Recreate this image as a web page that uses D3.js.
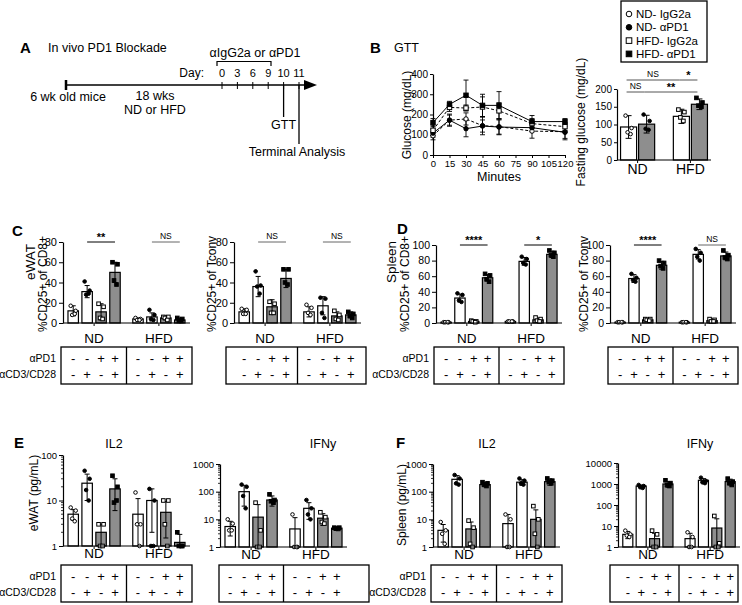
<!DOCTYPE html>
<html><head><meta charset="utf-8">
<script src="https://cdn.jsdelivr.net/npm/d3@7"></script>
<style>body{margin:0;background:#fff} svg{display:block} text{font-family:"Liberation Sans",Arial,Helvetica,sans-serif}</style>
</head><body><script>
// ---------------- DATA ----------------
const diets = ["ND", "HFD"];
const treatments = ["IgG2a", "IgG2a + αCD3/CD28", "αPD1", "αPD1 + αCD3/CD28"];
const pd1Row = ["-", "-", "+", "+"];
const cd3Row = ["-", "+", "-", "+"];
const timelineDays = [0, 3, 6, 9, 10, 11];

const gttGroups = ["ND- IgG2a", "ND- αPD1", "HFD- IgG2a", "HFD- αPD1"];
const gttMinutes = [0, 15, 30, 45, 60, 90, 120];
const gttNDIgG = [95, 172, 178, 145, 140, 118, 115];
const gttNDPD1 = [108, 172, 130, 143, 138, 135, 112];
const gttHFDIgG = [122, 235, 232, 237, 218, 155, 140];
const gttHFDPD1 = [160, 250, 295, 245, 245, 165, 165];
const gttNDIgGSd = [20, 25, 30, 45, 40, 35, 40];
const gttNDPD1Sd = [20, 30, 40, 30, 35, 20, 30];
const gttHFDIgGSd = [25, 20, 15, 50, 40, 25, 20];
const gttHFDPD1Sd = [20, 15, 75, 55, 68, 30, 15];

const fastMean = [93, 101, 123, 157];
const fastSd = [32, 25, 20, 15];
const fastPts = [[125, 90, 78, 73], [128, 110, 88, 85], [142, 135, 120, 110], [175, 162, 153, 150]];

// C: eWAT %CD25+ of CD8+
const cCD8Mean = [12, 31, 11, 50, 4, 6, 5, 3];
const cCD8Sd = [5, 6, 8, 10, 1, 4, 2, 2];
const cCD8Pts = [[17, 12, 8, 9], [41, 32, 28, 29], [19, 16, 5, 4], [60, 58, 42, 38], [5, 4, 3, 3], [13, 8, 4, 3], [6, 6, 5, 3], [5, 4, 2, 2]];
// C: eWAT %CD25+ of Tconv
const cTconvMean = [11, 36, 16, 44, 11, 17, 7, 8];
const cTconvSd = [3, 10, 7, 9, 5, 9, 4, 3];
const cTconvPts = [[14, 13, 9, 9], [51, 37, 36, 29], [21, 19, 10, 10], [53, 53, 40, 38], [18, 15, 10, 8], [25, 24, 10, 5], [12, 8, 4, 3], [11, 9, 7, 5]];
// D: spleen %CD25+ of CD8+
const dCD8Mean = [1, 32, 2, 58, 2, 79, 4, 88];
const dCD8Sd = [0.5, 5, 1, 4, 0.5, 5, 2, 4];
const dCD8Pts = [[1, 1, 1, 1], [38, 36, 29, 27], [3, 2, 2, 1], [63, 61, 56, 53], [2, 2, 2, 2], [85, 82, 77, 75], [7, 5, 3, 2], [93, 90, 87, 85]];
// D: spleen %CD25+ of Tconv
const dTconvMean = [1, 57, 4, 74, 1, 88, 3, 86];
const dTconvSd = [0.5, 5, 1, 5, 0.5, 6, 2, 5];
const dTconvPts = [[1, 1, 1, 1], [63, 58, 55, 53], [5, 5, 4, 3], [80, 77, 73, 70], [1, 1, 1, 1], [95, 90, 85, 80], [5, 4, 2, 2], [93, 87, 84, 82]];
// E: eWAT IL2 / IFNy (pg/mL)
const eIL2Mean = [5, 24, 2, 18, 5, 10, 5.5, 1.2];
const eIL2Sd = [1.3, 14, 1, 12, 6, 8, 4, 0.6];
const eIL2Pts = [[7, 6, 4, 3.5], [45, 30, 17, 10], [3, 3, 1, 1], [35, 20, 9, 10], [15, 3, 3, 1], [18, 10, 1, 1], [10, 10, 3, 1], [2, 1, 1, 1]];
const eIFNMean = [5.5, 100, 12, 50, 4.5, 25, 11, 4.8];
const eIFNSd = [3, 70, 22, 20, 7, 15, 5, 0.5];
const eIFNPts = [[10, 7, 4, 4], [180, 150, 70, 25], [40, 4, 1, 1], [80, 50, 45, 40], [15, 1, 1, 1], [50, 25, 15, 10], [18, 12, 8, 7], [5, 5, 4.6, 4.5]];
// F: spleen IL2 / IFNy (pg/mL)
const fIL2Mean = [4, 280, 4.5, 180, 7, 220, 10, 230];
const fIL2Sd = [2.5, 100, 3.5, 30, 8, 50, 12, 60];
const fIL2Pts = [[8, 4, 3, 1.3], [400, 300, 200, 180], [9, 5, 1.3, 1], [220, 200, 180, 160], [15, 10, 1, 1], [300, 250, 200, 180], [30, 10, 3, 1], [300, 250, 220, 200]];
const fIFNMean = [4, 800, 2.5, 1000, 2.5, 1500, 8, 1300];
const fIFNSd = [1.5, 100, 2, 300, 2, 300, 14, 400];
const fIFNPts = [[6, 4, 3.5, 3], [900, 800, 700, 650], [6, 4, 1, 1], [1500, 1100, 900, 800], [5, 3, 1, 1], [2000, 1400, 1200, 1100], [30, 1.5, 1, 1], [1800, 1300, 1100, 900]];

const ticks0to80 = [0, 20, 40, 60, 80];
const ticks0to100 = [0, 20, 40, 60, 80, 100];
const ticksLog100 = [1, 10, 100];
const ticksLog1000 = [1, 10, 100, 1000];
const ticksLog10000 = [1, 10, 100, 1000, 10000];

// ---------------- DRAWING ----------------
const FONT = '"Liberation Sans", Arial, Helvetica, sans-serif';
const GRAY = "#8e8e8e";
const svg = d3.select("body").append("svg").attr("width", 742).attr("height", 605);
svg.append("rect").attr("width", 742).attr("height", 605).attr("fill", "#fff");

function txt(parent, x, y, s, o = {}) {
  const t = parent.append("text").attr("x", x).attr("y", y).text(s)
    .attr("font-size", o.size || 12).attr("text-anchor", o.anchor || "start")
    .attr("font-weight", o.weight || "normal").attr("fill", o.fill || "#000");
  if (o.rotate) t.attr("transform", `rotate(-90,${x},${y})`);
  if (o.mid) t.attr("dominant-baseline", "central");
  return t;
}
const shapes = ["ocircle", "circle", "osquare", "square"];
function marker(g, shape, x, y, r) {
  if (shape === "circle" || shape === "ocircle")
    g.append("circle").attr("cx", x).attr("cy", y).attr("r", r)
      .attr("fill", shape === "circle" ? "#000" : "#fff").attr("stroke", "#000").attr("stroke-width", 1);
  else
    g.append("rect").attr("x", x - r).attr("y", y - r).attr("width", 2 * r).attr("height", 2 * r)
      .attr("fill", shape === "square" ? "#000" : "#fff").attr("stroke", "#000").attr("stroke-width", 1);
}
function styleAxis(s, size = 10) {
  s.selectAll("text").attr("font-size", size).attr("font-family", FONT).attr("fill", "#000");
  s.select(".domain").attr("stroke-width", 1.2);
  s.selectAll(".tick line").attr("stroke-width", 1);
}

// ---------- Panel A ----------
const gA = svg.append("g");
txt(gA, 20, 53, "A", { size: 15, weight: "bold" });
txt(gA, 48, 52, "In vivo PD1 Blockade", { size: 12.5 });
const dayX = d3.scalePoint().domain(timelineDays).range([222, 299]);
const tlY = 85;
gA.append("line").attr("x1", 66).attr("x2", 306).attr("y1", tlY).attr("y2", tlY).attr("stroke", "#000").attr("stroke-width", 1.5);
gA.append("path").attr("d", `M304,${tlY - 5} L317,${tlY} L304,${tlY + 5} Z`).attr("fill", "#000");
gA.append("line").attr("x1", 66).attr("x2", 66).attr("y1", tlY - 5).attr("y2", tlY + 5).attr("stroke", "#000").attr("stroke-width", 2.5);
timelineDays.forEach(d => {
  gA.append("line").attr("x1", dayX(d)).attr("x2", dayX(d)).attr("y1", tlY - 3).attr("y2", tlY + 4).attr("stroke", "#000");
  txt(gA, dayX(d), 77, d, { size: 11, anchor: "middle" });
});
txt(gA, 204, 77, "Day:", { size: 12, anchor: "end" });
gA.append("path").attr("d", `M217,66 L217,61.5 L271,61.5 L271,66`).attr("fill", "none").attr("stroke", "#000").attr("stroke-width", 1.2);
txt(gA, 255, 57, "αIgG2a or αPD1", { size: 12.5, anchor: "middle" });
txt(gA, 68, 101, "6 wk old mice", { size: 12.5, anchor: "middle" });
txt(gA, 155, 100, "18 wks", { size: 12.5, anchor: "middle" });
txt(gA, 155, 114, "ND or HFD", { size: 12.5, anchor: "middle" });
gA.append("line").attr("x1", dayX(10)).attr("x2", dayX(10)).attr("y1", tlY).attr("y2", 117).attr("stroke", "#000").attr("stroke-width", 1.3);
txt(gA, dayX(10), 129, "GTT", { size: 12.5, anchor: "middle" });
gA.append("line").attr("x1", dayX(11)).attr("x2", dayX(11)).attr("y1", tlY).attr("y2", 144).attr("stroke", "#000").attr("stroke-width", 1.3);
txt(gA, 297, 156, "Terminal Analysis", { size: 12.5, anchor: "middle" });

// ---------- Panel B: GTT ----------
const gB = svg.append("g");
txt(gB, 370, 53, "B", { size: 15, weight: "bold" });
txt(gB, 394, 52, "GTT", { size: 12.5 });
const gx = d3.scaleLinear().domain([0, 120]).range([433, 565]);
const gy = d3.scaleLinear().domain([0, 400]).range([155, 74]);
gB.append("g").attr("transform", "translate(0,155)")
  .call(d3.axisBottom(gx).tickValues(gttMinutes.concat([75, 105])).tickSize(3).tickSizeOuter(0).tickPadding(2))
  .call(s => styleAxis(s, 9.5));
gB.append("g").attr("transform", "translate(433,0)")
  .call(d3.axisLeft(gy).tickValues([0, 100, 200, 300, 400]).tickSize(3).tickSizeOuter(0).tickPadding(2))
  .call(s => styleAxis(s, 10));
txt(gB, 499, 181, "Minutes", { size: 12.5, anchor: "middle" });
txt(gB, 411, 115, "Glucose (mg/dL)", { size: 12, anchor: "middle", rotate: true });
const gttSets = [
  { mean: gttNDIgG, sd: gttNDIgGSd, shape: "ocircle", dash: "3,2" },
  { mean: gttNDPD1, sd: gttNDPD1Sd, shape: "circle", dash: null },
  { mean: gttHFDIgG, sd: gttHFDIgGSd, shape: "osquare", dash: "3,2" },
  { mean: gttHFDPD1, sd: gttHFDPD1Sd, shape: "square", dash: null }
];
const gline = d3.line().x((d, i) => gx(gttMinutes[i])).y(d => gy(d));
gttSets.forEach(s => {
  s.mean.forEach((m, i) => {
    const x = gx(gttMinutes[i]);
    gB.append("line").attr("x1", x).attr("x2", x).attr("y1", gy(m - s.sd[i])).attr("y2", gy(m + s.sd[i])).attr("stroke", "#000").attr("stroke-width", 0.9);
    [m - s.sd[i], m + s.sd[i]].forEach(v => gB.append("line").attr("x1", x - 2.5).attr("x2", x + 2.5).attr("y1", gy(v)).attr("y2", gy(v)).attr("stroke", "#000").attr("stroke-width", 0.9));
  });
});
gttSets.forEach(s => {
  gB.append("path").attr("d", gline(s.mean)).attr("fill", "none").attr("stroke", "#000").attr("stroke-width", 1)
    .attr("stroke-dasharray", s.dash);
  s.mean.forEach((m, i) => marker(gB, s.shape, gx(gttMinutes[i]), gy(m), 2.2));
});

// Legend
const gL = svg.append("g");
gL.append("rect").attr("x", 621).attr("y", 1).attr("width", 86).attr("height", 61).attr("fill", "#fff").attr("stroke", "#000").attr("stroke-width", 1.3);
gttGroups.forEach((name, i) => {
  const yy = 14 + i * 13.3;
  marker(gL, shapes[i], 629, yy, 2.8);
  txt(gL, 636, yy, name, { size: 11.5, mid: true });
});

// Fasting glucose
const gF = svg.append("g");
const fy = d3.scaleLinear().domain([0, 200]).range([160, 89]);
const fOuter = d3.scaleBand().domain(diets).range([617, 711]).paddingInner(0.32).paddingOuter(0.05);
const fInner = d3.scaleBand().domain([0, 1]).range([0, fOuter.bandwidth()]).paddingInner(0.11).paddingOuter(0.05);
const fcx = i => fOuter(diets[Math.floor(i / 2)]) + fInner(i % 2) + fInner.bandwidth() / 2;
fastMean.forEach((m, i) => {
  gF.append("rect").attr("x", fcx(i) - fInner.bandwidth() / 2).attr("width", fInner.bandwidth())
    .attr("y", fy(m)).attr("height", 160 - fy(m)).attr("fill", i % 2 === 0 ? "#fff" : GRAY).attr("stroke", "#000").attr("stroke-width", 1.2);
});
fastMean.forEach((m, i) => {
  const x = fcx(i);
  gF.append("line").attr("x1", x).attr("x2", x).attr("y1", fy(m - fastSd[i])).attr("y2", fy(m + fastSd[i])).attr("stroke", "#000");
  [m - fastSd[i], m + fastSd[i]].forEach(v => gF.append("line").attr("x1", x - 3).attr("x2", x + 3).attr("y1", fy(v)).attr("y2", fy(v)).attr("stroke", "#000"));
  fastPts[i].forEach((v, j) => marker(gF, shapes[i], x + [-3, 3, -1, 2][j], fy(v), 1.8));
});
gF.append("g").attr("transform", "translate(617,0)")
  .call(d3.axisLeft(fy).tickValues([0, 50, 100, 150, 200]).tickSize(3).tickSizeOuter(0).tickPadding(2))
  .call(s => styleAxis(s, 10));
gF.append("line").attr("x1", 617).attr("x2", 711).attr("y1", 160).attr("y2", 160).attr("stroke", "#000").attr("stroke-width", 1.2);
diets.forEach(d => {
  const c = fOuter(d) + fOuter.bandwidth() / 2;
  gF.append("line").attr("x1", c).attr("x2", c).attr("y1", 160).attr("y2", 163).attr("stroke", "#000");
  txt(gF, c, 174, d, { size: 14, anchor: "middle" });
});
txt(gF, 585, 122, "Fasting glucose (mg/dL)", { size: 12, anchor: "middle", rotate: true });
[[0, 2, 80, "NS"], [2, 3, 80, "*"], [0, 1, 92, "NS"], [1, 3, 92, "**"]].forEach(([a, b, yy, lab]) => {
  gF.append("line").attr("x1", fcx(a) - 2).attr("x2", fcx(b) - 2).attr("y1", yy).attr("y2", yy).attr("stroke", "#555").attr("stroke-width", 1);
  const isStar = lab !== "NS";
  txt(gF, (fcx(a) + fcx(b)) / 2 - 2, isStar ? yy - 1 : yy - 3, lab, { size: isStar ? 11 : 8.5, anchor: "middle", weight: isStar ? "bold" : "normal" });
});

// ---------- Generic bar panel ----------
function barPanel(o) {
  const g = svg.append("g");
  const outer = d3.scaleBand().domain(diets).range([o.axisX, o.axisX + o.width]).paddingInner(0.14).paddingOuter(0.05);
  const inner = d3.scaleBand().domain(d3.range(4)).range([0, outer.bandwidth()]).paddingInner(0.25).paddingOuter(0.125);
  const y = (o.log ? d3.scaleLog() : d3.scaleLinear()).domain(o.domain).range([o.yBottom, o.yTop]);
  const data = o.mean.map((m, i) => ({ m, sd: o.sd[i], pts: o.pts[i], diet: diets[Math.floor(i / 4)], t: i % 4 }));
  const cx = d => outer(d.diet) + inner(d.t) + inner.bandwidth() / 2;
  const lo0 = o.domain[0];
  g.selectAll("rect.bar").data(data).join("rect").attr("class", "bar")
    .attr("x", d => outer(d.diet) + inner(d.t)).attr("width", inner.bandwidth())
    .attr("y", d => y(Math.max(d.m, lo0))).attr("height", d => o.yBottom - y(Math.max(d.m, lo0)))
    .attr("fill", d => d.t < 2 ? "#fff" : GRAY).attr("stroke", "#000").attr("stroke-width", 1.2);
  data.forEach(d => {
    const x = cx(d);
    const lo = Math.max(lo0, d.m - d.sd), hi = d.m + d.sd;
    g.append("line").attr("x1", x).attr("x2", x).attr("y1", y(lo)).attr("y2", y(hi)).attr("stroke", "#000").attr("stroke-width", 1);
    [lo, hi].forEach(v => { if (v > lo0) g.append("line").attr("x1", x - 2.5).attr("x2", x + 2.5).attr("y1", y(v)).attr("y2", y(v)).attr("stroke", "#000"); });
    d.pts.forEach((v, j) => marker(g, shapes[d.t], x + [-2.5, 2.5, -1, 1.5][j], y(Math.max(v, lo0)), 1.8));
  });
  const ya = d3.axisLeft(y).tickValues(o.ticks).tickSize(4).tickSizeOuter(0).tickPadding(2).tickFormat(d => d);
  g.append("g").attr("transform", `translate(${o.axisX},0)`).call(ya).call(s => styleAxis(s, o.tickSize || 10));
  if (o.log) {
    const minor = [];
    for (let k = 0; Math.pow(10, k) < o.domain[1]; k++) for (let m = 2; m <= 9; m++) minor.push(m * Math.pow(10, k));
    g.selectAll("line.minor").data(minor).join("line").attr("class", "minor")
      .attr("x1", o.axisX - 2).attr("x2", o.axisX).attr("y1", d => y(d)).attr("y2", d => y(d)).attr("stroke", "#000").attr("stroke-width", 0.8);
  }
  g.append("line").attr("x1", o.axisX).attr("x2", o.axisX + o.width).attr("y1", o.yBottom).attr("y2", o.yBottom).attr("stroke", "#000").attr("stroke-width", 1.2);
  diets.forEach(dd => {
    const c = outer(dd) + outer.bandwidth() / 2;
    g.append("line").attr("x1", c).attr("x2", c).attr("y1", o.yBottom).attr("y2", o.yBottom + 3).attr("stroke", "#000");
    txt(g, c, o.xLabelY, dd, { size: 13.5, anchor: "middle", mid: true });
  });
  const t0 = o.tableX0 !== undefined ? o.tableX0 : o.axisX - 2;
  const t1 = o.tableX1 !== undefined ? o.tableX1 : o.axisX + o.width + 2;
  const div = o.tableDiv !== undefined ? o.tableDiv : outer("HFD") - outer.step() * outer.paddingInner() / 2;
  g.append("rect").attr("x", t0).attr("y", o.tableTop).attr("width", t1 - t0).attr("height", 37)
    .attr("fill", "none").attr("stroke", "#000").attr("stroke-width", 1.3);
  g.append("line").attr("x1", div).attr("x2", div).attr("y1", o.tableTop).attr("y2", o.tableTop + 37).attr("stroke", "#000").attr("stroke-width", 1.3);
  data.forEach(d => {
    txt(g, cx(d), o.tableTop + 11, pd1Row[d.t], { size: 13, anchor: "middle", mid: true });
    txt(g, cx(d), o.tableTop + 27, cd3Row[d.t], { size: 13, anchor: "middle", mid: true });
  });
  if (o.rowLabels) {
    txt(g, t0 - 5, o.tableTop + 11, "αPD1", { size: 10.5, anchor: "end", mid: true });
    txt(g, t0 - 5, o.tableTop + 27, "αCD3/CD28", { size: 10.5, anchor: "end", mid: true });
  }
  (o.ylabels || []).forEach(l => txt(g, l.x, l.y, l.text, { size: l.size || 12, anchor: "middle", rotate: true }));
  if (o.title) txt(g, o.title.x, o.title.y, o.title.text, { size: 12.5, anchor: "middle" });
  if (o.letter) txt(g, o.letter.x, o.letter.y, o.letter.text, { size: 15, weight: "bold" });
  (o.sig || []).forEach(s => {
    const a = cx({ diet: s.diet, t: s.a }), b = cx({ diet: s.diet, t: s.b });
    g.append("line").attr("x1", a).attr("x2", b).attr("y1", o.yTop).attr("y2", o.yTop).attr("stroke", s.label === "NS" ? "#666" : "#000").attr("stroke-width", 1);
    const isStar = s.label !== "NS";
    txt(g, (a + b) / 2, isStar ? o.yTop - 1 : o.yTop - 3, s.label, { size: isStar ? 11 : 8.5, anchor: "middle", weight: isStar ? "bold" : "normal" });
  });
}

// C
barPanel({ axisX: 63, width: 127, yTop: 242, yBottom: 323, domain: [0, 80], ticks: ticks0to80, tickSize: 11,
  mean: cCD8Mean, sd: cCD8Sd, pts: cCD8Pts, xLabelY: 338, tableTop: 347, rowLabels: true,
  letter: { x: 12, y: 236, text: "C" },
  ylabels: [{ x: 35, y: 262, text: "eWAT", size: 13.5 }, { x: 47, y: 284, text: "%CD25+ of CD8+" }],
  sig: [{ diet: "ND", a: 1, b: 3, label: "**" }, { diet: "HFD", a: 1, b: 3, label: "NS" }] });
barPanel({ axisX: 234, width: 127, yTop: 242, yBottom: 323, domain: [0, 80], ticks: ticks0to80, tickSize: 11,
  mean: cTconvMean, sd: cTconvSd, pts: cTconvPts, xLabelY: 338, tableTop: 347, tableX0: 226, tableX1: 366,
  ylabels: [{ x: 216, y: 284, text: "%CD25+ of Tconv" }],
  sig: [{ diet: "ND", a: 1, b: 3, label: "NS" }, { diet: "HFD", a: 1, b: 3, label: "NS" }] });
// D
barPanel({ axisX: 436, width: 126, yTop: 245, yBottom: 323, domain: [0, 100], ticks: ticks0to100, tickSize: 10.5,
  mean: dCD8Mean, sd: dCD8Sd, pts: dCD8Pts, xLabelY: 338, tableTop: 347, rowLabels: true,
  letter: { x: 397, y: 234, text: "D" },
  ylabels: [{ x: 396, y: 262, text: "Spleen", size: 13.5 }, { x: 409, y: 284, text: "%CD25+ of CD8+" }],
  sig: [{ diet: "ND", a: 1, b: 3, label: "****" }, { diet: "HFD", a: 1, b: 3, label: "*" }] });
barPanel({ axisX: 610, width: 126, yTop: 245, yBottom: 323, domain: [0, 100], ticks: ticks0to100, tickSize: 10.5,
  mean: dTconvMean, sd: dTconvSd, pts: dTconvPts, xLabelY: 338, tableTop: 347,
  ylabels: [{ x: 588, y: 284, text: "%CD25+ of Tconv" }],
  sig: [{ diet: "ND", a: 1, b: 3, label: "****" }, { diet: "HFD", a: 1, b: 3, label: "NS" }] });
// E
barPanel({ axisX: 63, width: 127, yTop: 455, yBottom: 546, domain: [1, 100], log: true, ticks: ticksLog100, tickSize: 9.5,
  mean: eIL2Mean, sd: eIL2Sd, pts: eIL2Pts, xLabelY: 553, tableTop: 565, rowLabels: true,
  letter: { x: 14, y: 448, text: "E" }, title: { x: 114, y: 448, text: "IL2" },
  ylabels: [{ x: 38, y: 493, text: "eWAT (pg/mL)" }] });
barPanel({ axisX: 220, width: 127, yTop: 464, yBottom: 547, domain: [1, 1000], log: true, ticks: ticksLog1000, tickSize: 9.5,
  mean: eIFNMean, sd: eIFNSd, pts: eIFNPts, xLabelY: 554, tableTop: 565, tableX0: 219, tableX1: 369,
  title: { x: 323, y: 448, text: "IFNy" } });
// F
barPanel({ axisX: 433, width: 127, yTop: 464, yBottom: 547, domain: [1, 1000], log: true, ticks: ticksLog1000, tickSize: 9.5,
  mean: fIL2Mean, sd: fIL2Sd, pts: fIL2Pts, xLabelY: 554, tableTop: 565, rowLabels: true,
  letter: { x: 396, y: 448, text: "F" }, title: { x: 487, y: 448, text: "IL2" },
  ylabels: [{ x: 406, y: 505, text: "Spleen (pg/mL)" }] });
barPanel({ axisX: 618, width: 122, yTop: 463, yBottom: 547, domain: [1, 10000], log: true, ticks: ticksLog10000, tickSize: 9.5,
  mean: fIFNMean, sd: fIFNSd, pts: fIFNPts, xLabelY: 554, tableTop: 565, tableX0: 610, tableX1: 738,
  title: { x: 700, y: 448, text: "IFNy" } });
</script></body></html>
